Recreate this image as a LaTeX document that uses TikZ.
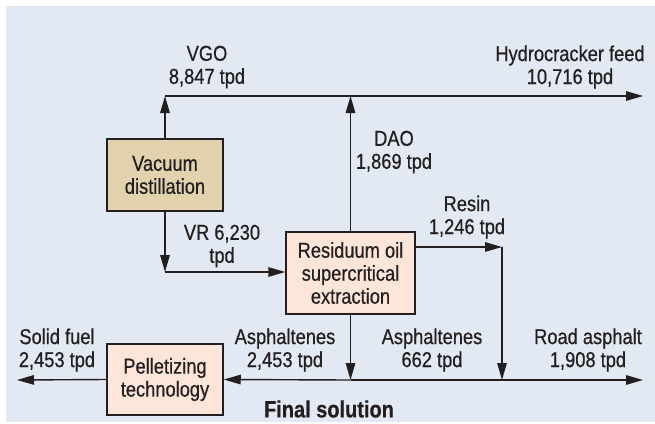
\documentclass[tikz,border=0pt]{standalone}
\usepackage{fontspec}
\setmainfont[FakeStretch=0.85, FakeBold=0.6]{Liberation Sans}
\usepackage{tikz}
\usetikzlibrary{arrows.meta}
\definecolor{panelblue}{HTML}{E3E9F3}
\definecolor{tanfill}{HTML}{E2D3AE}
\definecolor{peachfill}{HTML}{FDE5D9}
\definecolor{inkdark}{HTML}{231F20}
\tikzstyle{unit} = [draw=inkdark, line width=1.5pt, align=center, text=inkdark, inner sep=0pt]
\tikzstyle{arrow} = [draw=inkdark, line width=1.4pt, -{Triangle[length=17pt, width=9.5pt]}]
\tikzstyle{flow} = [text=inkdark, align=center]

\begin{document}
\begin{tikzpicture}[x=1pt, y=-1pt, font=\fontsize{21.5}{23}\selectfont]
\useasboundingbox (0, 0) rectangle (655, 423);
\fill[panelblue] (6, 6) rectangle (655, 422);

%% Process units
\node[unit, fill=tanfill, minimum width=116pt, minimum height=72pt] (vacuum) at (165, 175) {Vacuum\\distillation};
\node[unit, fill=peachfill, minimum width=129pt, minimum height=82pt] (rose) at (350.5, 273) {Residuum oil\\supercritical\\extraction};
\node[unit, fill=peachfill, minimum width=116pt, minimum height=71pt] (pellet) at (165, 379.5) {Pelletizing\\technology};

%% Junctions and open ends
\coordinate (vgocorner) at (165, 96);
\coordinate (daojoin) at (350.5, 96);
\coordinate (hcend) at (643, 96);
\coordinate (vrcorner) at (165, 272);
\coordinate (resincorner) at (502, 247);
\coordinate (resinjoin) at (502, 380);
\coordinate (asphjoin) at (350.5, 380);
\coordinate (roadend) at (643, 380);
\coordinate (solidend) at (17, 380);

%% Streams
\draw[arrow] (vacuum.north) -- (vgocorner);
\draw[arrow] (vgocorner) -- (hcend);
\draw[arrow] (rose.north) -- (daojoin);
\draw[arrow] (vacuum.south) -- (vrcorner);
\draw[arrow] (vrcorner) -- (vrcorner -| rose.west);
\draw[arrow] (rose.east |- resincorner) -- (resincorner);
\draw[arrow] (resincorner) -- (resinjoin);
\draw[arrow] (rose.south) -- (asphjoin);
\draw[arrow] (asphjoin) -- (roadend);
\draw[arrow] (asphjoin) -- (pellet.east);
\draw[arrow] (pellet.west) -- (solidend);

%% Stream labels
\node[flow] (vgo) at (207, 67) {VGO\\8,847 tpd};
\node[flow] (hcfeed) at (570, 67) {Hydrocracker feed\\10,716 tpd};
\node[flow] (dao) at (394, 152) {DAO\\1,869 tpd};
\node[flow] (resin) at (467, 217) {Resin\\1,246 tpd};
\node[flow] (vr) at (222, 246) {VR 6,230\\tpd};
\node[flow] (solid) at (57, 350) {Solid fuel\\2,453 tpd};
\node[flow] (asphleft) at (285, 350) {Asphaltenes\\2,453 tpd};
\node[flow] (asphright) at (432, 350) {Asphaltenes\\662 tpd};
\node[flow] (road) at (588, 350) {Road asphalt\\1,908 tpd};
\node[text=inkdark, font=\fontsize{23.5}{25}\selectfont\bfseries] (final) at (329, 409) {Final solution};
\end{tikzpicture}
\end{document}
